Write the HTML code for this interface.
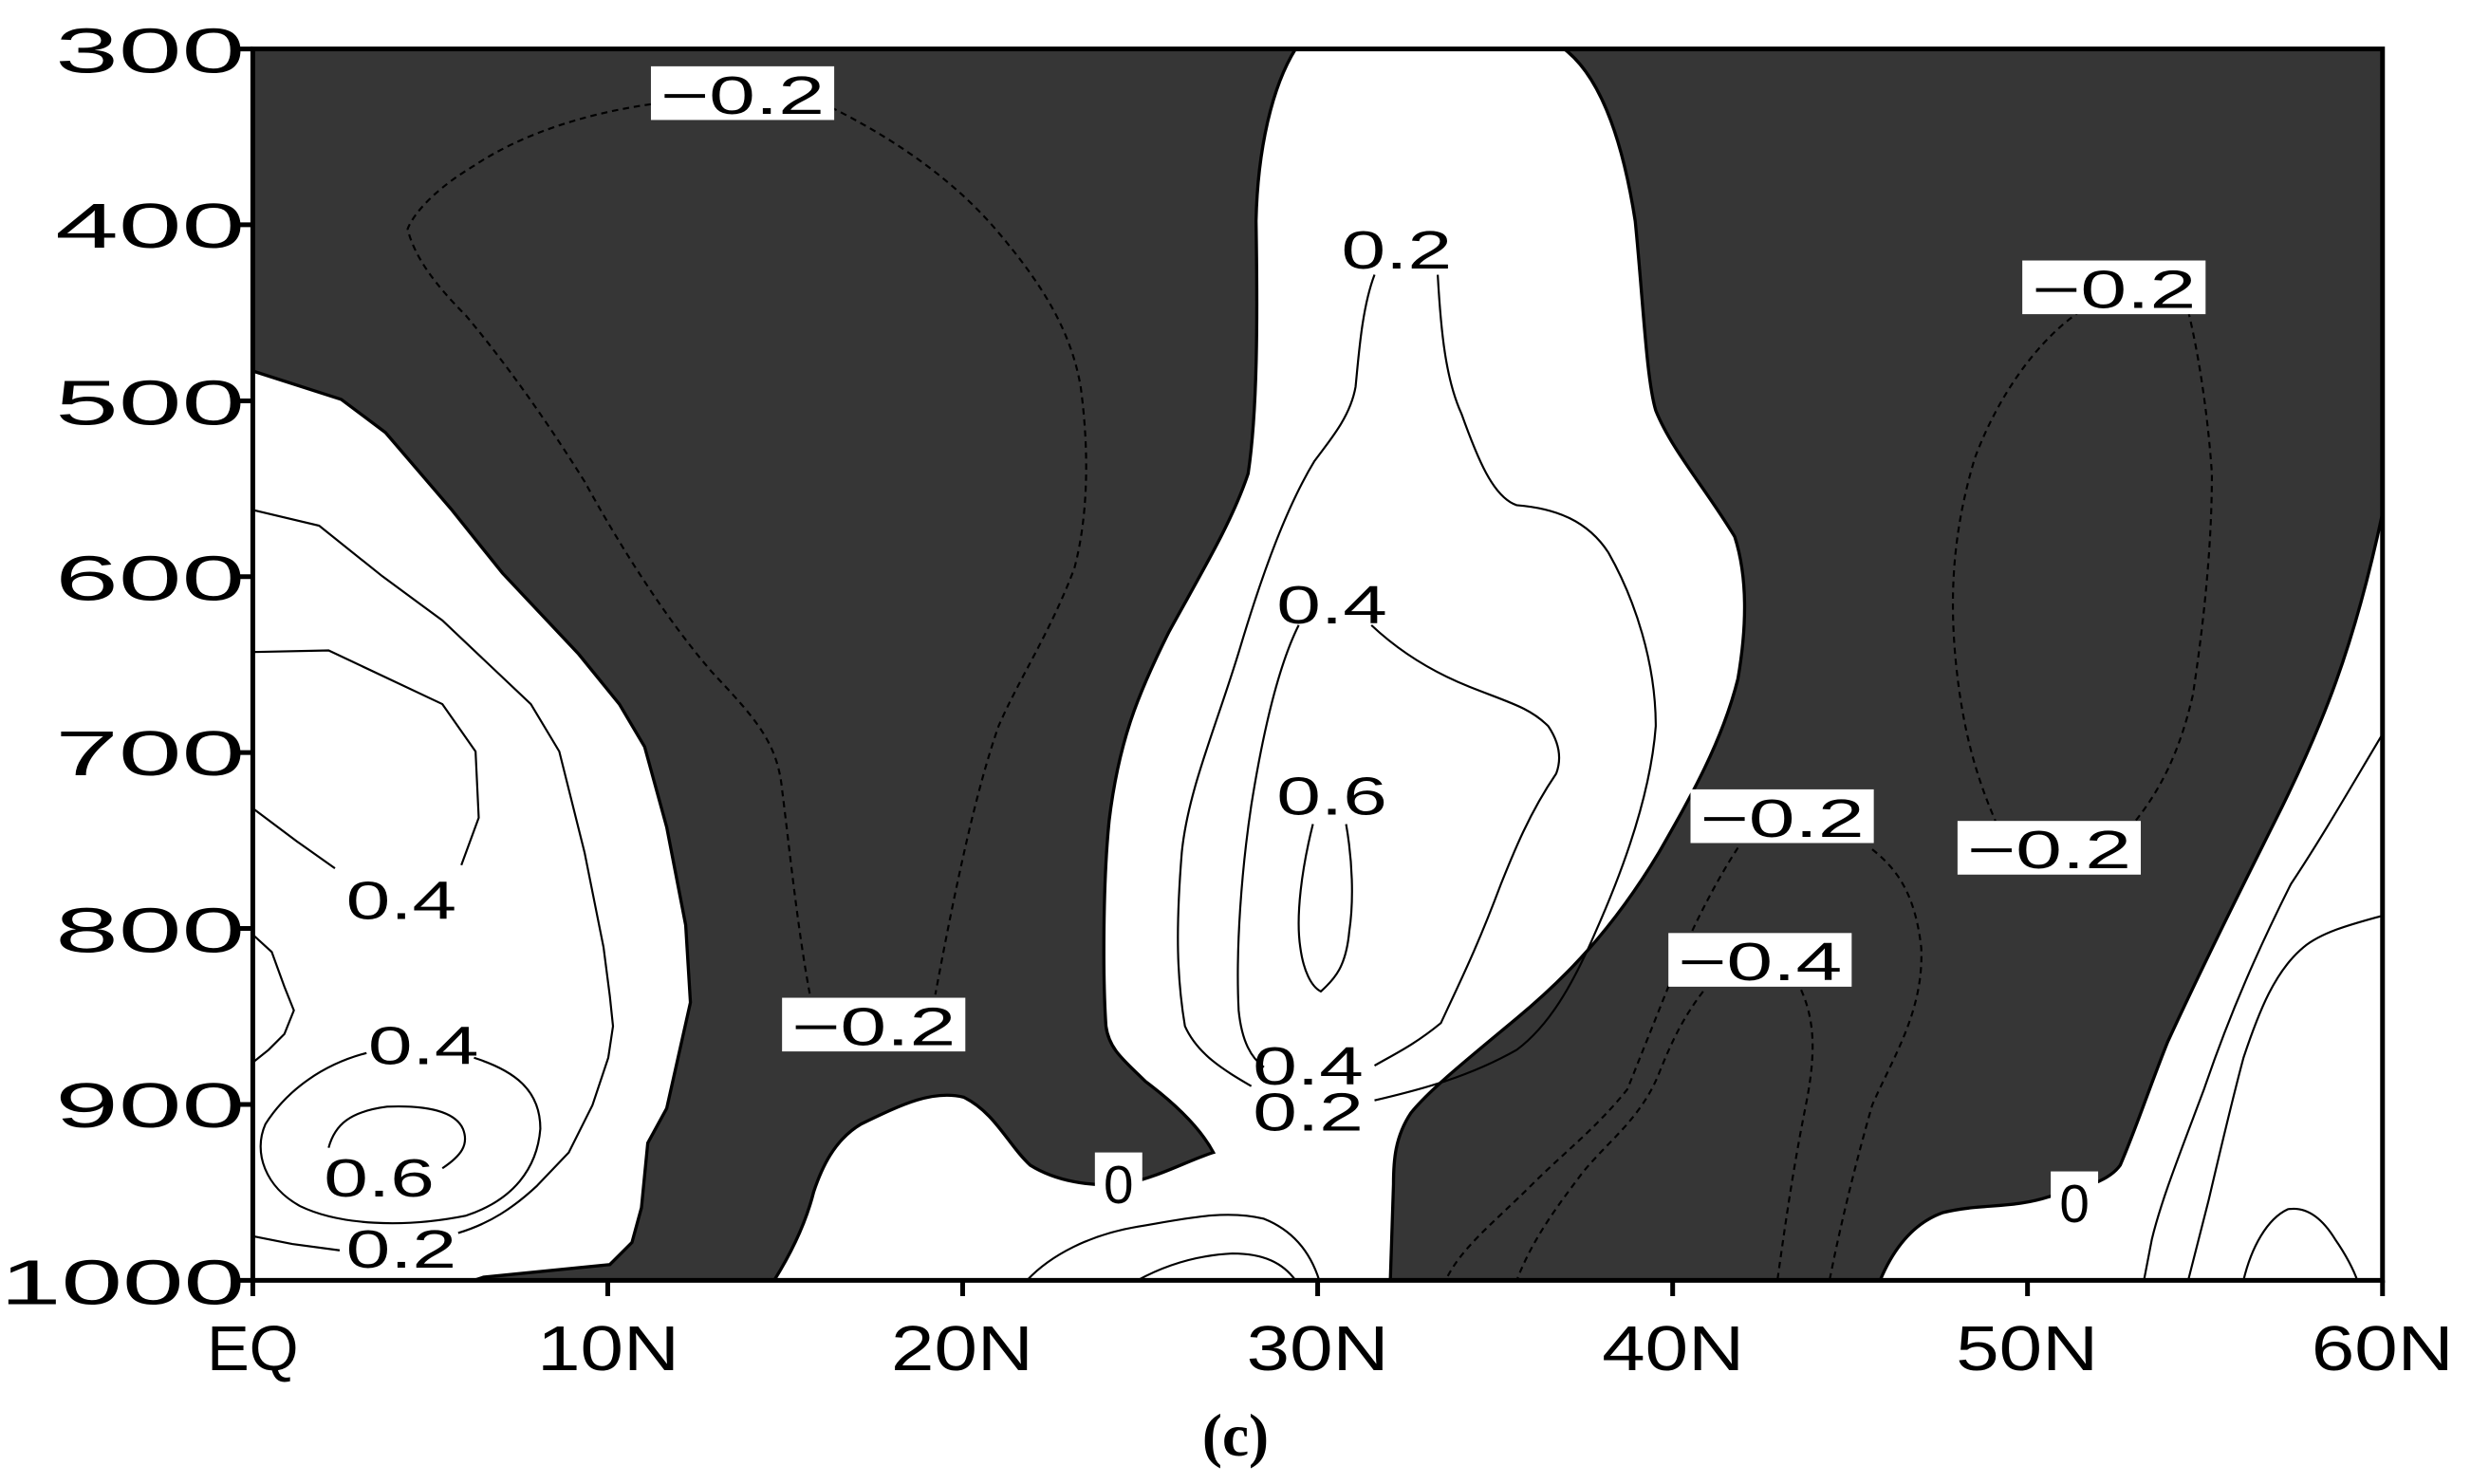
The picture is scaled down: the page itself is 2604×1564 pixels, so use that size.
<!DOCTYPE html>
<html><head><meta charset="utf-8"><style>
html,body{margin:0;padding:0;background:#fff;overflow:hidden;}
svg{display:block;}
text{font-family:"Liberation Sans",sans-serif;fill:#000;}
</style></head><body>
<svg width="2604" height="1564" viewBox="0 0 1564 940" preserveAspectRatio="none" xmlns="http://www.w3.org/2000/svg">
<rect x="0" y="0" width="1564" height="940" fill="#fff"/>
<rect x="160" y="31" width="1348" height="780" fill="#363636"/>
<g fill="#fff" stroke="#000" stroke-width="2">
<!-- left white -->
<path d="M160,235 L216,253 L244,274 L286,323 L318,363 L366,414 L392,446 L408,473 L422,524 L434,586 L437,635 L422,702 L410,724 L406,765 L400,787 L386,801 L306,809 L300,811 L160,811 Z"/>
<!-- middle white -->
<path d="M820,31 L990,31 C1015,50 1028,95 1035,140 C1040,190 1042,240 1048,260 C1058,285 1080,310 1098,340 C1106,365 1106,395 1100,430 C1090,470 1070,505 1050,540 C1020,590 990,620 960,645 C930,670 905,690 893,705 C883,720 882,735 882,750 L880,811 L490,811 C500,795 510,775 515,755 C520,740 528,722 545,712 C570,700 590,690 610,695 C630,705 638,725 652,738 C668,748 690,752 712,750 C735,745 752,735 768,730 C760,715 745,700 725,685 C712,672 702,665 700,650 C698,620 698,560 702,520 C708,470 720,440 740,400 C762,360 780,330 790,300 C796,260 796,200 795,140 C796,95 805,55 820,31 Z"/>
<!-- bottom right white -->
<path d="M1190,811 C1198,792 1210,775 1230,768 C1255,762 1275,766 1300,757 C1320,752 1335,748 1342,738 C1352,715 1360,690 1372,660 C1395,610 1420,560 1440,520 C1470,460 1490,410 1508,325 L1508,811 Z"/>
</g>
<g fill="none" stroke="#000" stroke-width="1.3">
<path d="M160,323 L202,333 L242,365 L280,393 L336,446 L354,476 L370,540 L382,600 L386,631 L388,650 L385,670 L375,700 L360,730 L340,751 C325,765 310,775 290,781"/>
<path d="M215,792 L185,788 L160,783"/>
<path d="M160,413 L208,412 L280,446 L301,476 L303,518 L292,548"/>
<path d="M160,512 L188,533 L212,550"/>
<path d="M160,592 L172,603 L180,625 L186,640 L180,655 L170,665 L160,673"/>
<path d="M232,667 C205,674 182,690 168,712 C160,730 168,752 190,764 C215,776 255,778 295,770 C325,760 340,740 342,715 C342,690 325,678 300,670"/>
<path d="M208,727 C212,712 222,704 245,701 C270,700 288,704 293,715 C297,725 292,732 280,740"/>
<path d="M870,174 C862,195 860,225 858,245 C855,262 845,275 832,292 C815,320 800,360 785,410 C770,460 752,500 748,540 C744,590 745,620 750,650 C758,668 775,678 792,688"/>
<path d="M910,174 C912,210 915,240 925,262 C935,290 945,315 960,320 C985,322 1005,330 1018,350 C1035,380 1048,420 1048,460 C1045,500 1030,545 1010,590 C995,625 980,650 960,665 C930,682 900,690 870,697"/>
<path d="M822,396 C810,420 800,460 792,510 C786,550 782,600 784,640 C786,660 792,670 800,676"/>
<path d="M868,396 C885,412 905,425 930,435 C955,445 968,448 980,460 C988,472 988,482 985,490 C968,515 958,540 950,560 C935,600 925,620 912,648 C895,662 882,668 870,675"/>
<path d="M831,522 C824,550 820,580 823,600 C825,615 830,625 836,628 C845,620 852,612 854,590 C857,570 856,545 852,522"/>
<path d="M650,811 C665,795 690,782 720,777 C750,772 775,766 800,772 C820,780 830,795 835,811"/>
<path d="M720,811 C740,800 760,795 780,794 C800,794 812,800 820,811"/>
<path d="M1508,465 C1490,495 1470,530 1450,560 C1430,600 1412,640 1395,690 C1380,730 1368,760 1362,785 L1357,811"/>
<path d="M1508,580 C1490,585 1470,590 1458,600 C1440,615 1430,640 1420,670 C1412,700 1405,730 1398,760 L1385,811"/>
<path d="M1420,811 C1425,790 1435,772 1448,766 C1460,764 1470,772 1478,785 C1485,795 1490,805 1492,811"/>
</g>
<g fill="none" stroke="#000" stroke-width="1.3" stroke-dasharray="4,3">
<path d="M412,66 C370,72 330,85 300,105 C275,120 262,135 258,145 C262,162 275,180 295,200 C320,230 345,265 370,305 C392,345 420,390 450,425 C478,455 492,470 495,500 C500,540 505,590 513,632"/>
<path d="M526,68 C560,85 600,110 630,145 C660,180 678,210 684,245 C690,290 688,330 680,360 C665,400 645,430 632,460 C618,500 605,560 592,630"/>
<path d="M1317,197 C1290,215 1265,250 1250,290 C1238,330 1233,370 1238,420 C1242,460 1250,490 1263,520"/>
<path d="M1385,197 C1393,230 1398,270 1400,300 C1400,350 1394,400 1388,440 C1380,475 1368,500 1350,522"/>
<path d="M1100,537 C1085,560 1070,590 1060,615 C1050,640 1040,665 1030,690 C1010,715 990,730 970,750 C945,775 925,790 915,811"/>
<path d="M1078,628 C1065,645 1058,660 1050,680 C1038,710 1015,725 1000,745 C985,765 970,785 960,811"/>
<path d="M1140,627 C1148,645 1150,665 1143,700 C1135,740 1130,775 1125,811"/>
<path d="M1185,538 C1200,550 1212,565 1216,600 C1218,640 1198,670 1185,700 C1175,735 1165,775 1158,811"/>
</g>
<rect x="160" y="31" width="1348" height="780" fill="none" stroke="#000" stroke-width="3"/>
<g stroke="#000" stroke-width="3">
<line x1="150" y1="31" x2="160" y2="31"/><line x1="150" y1="142.4" x2="160" y2="142.4"/>
<line x1="150" y1="253.9" x2="160" y2="253.9"/><line x1="150" y1="365.3" x2="160" y2="365.3"/>
<line x1="150" y1="476.7" x2="160" y2="476.7"/><line x1="150" y1="588.1" x2="160" y2="588.1"/>
<line x1="150" y1="699.6" x2="160" y2="699.6"/><line x1="150" y1="811" x2="160" y2="811"/>
<line x1="160" y1="811" x2="160" y2="821"/><line x1="384.7" y1="811" x2="384.7" y2="821"/>
<line x1="609.3" y1="811" x2="609.3" y2="821"/><line x1="834" y1="811" x2="834" y2="821"/>
<line x1="1058.7" y1="811" x2="1058.7" y2="821"/><line x1="1283.3" y1="811" x2="1283.3" y2="821"/>
<line x1="1508" y1="811" x2="1508" y2="821"/>
</g>
<g font-size="40" text-anchor="end">
<text x="155" y="46" textLength="120" lengthAdjust="spacingAndGlyphs">300</text>
<text x="155" y="157" textLength="120" lengthAdjust="spacingAndGlyphs">400</text>
<text x="155" y="269" textLength="120" lengthAdjust="spacingAndGlyphs">500</text>
<text x="155" y="380" textLength="120" lengthAdjust="spacingAndGlyphs">600</text>
<text x="155" y="491" textLength="120" lengthAdjust="spacingAndGlyphs">700</text>
<text x="155" y="603" textLength="120" lengthAdjust="spacingAndGlyphs">800</text>
<text x="155" y="714" textLength="120" lengthAdjust="spacingAndGlyphs">900</text>
<text x="155" y="826" textLength="155" lengthAdjust="spacingAndGlyphs">1000</text>
</g>
<g font-size="40" text-anchor="middle">
<text x="160" y="868" textLength="58" lengthAdjust="spacingAndGlyphs">EQ</text>
<text x="385" y="868" textLength="90" lengthAdjust="spacingAndGlyphs">10N</text>
<text x="609" y="868" textLength="90" lengthAdjust="spacingAndGlyphs">20N</text>
<text x="834" y="868" textLength="90" lengthAdjust="spacingAndGlyphs">30N</text>
<text x="1059" y="868" textLength="90" lengthAdjust="spacingAndGlyphs">40N</text>
<text x="1283" y="868" textLength="90" lengthAdjust="spacingAndGlyphs">50N</text>
<text x="1508" y="868" textLength="90" lengthAdjust="spacingAndGlyphs">60N</text>
</g>
<text x="782" y="922" font-size="38" font-weight="bold" text-anchor="middle" style="font-family:'Liberation Serif',serif">(c)</text>
<g fill="#fff">
<rect x="412" y="42" width="116" height="34"/>
<rect x="1280" y="165" width="116" height="34"/>
<rect x="1070" y="500" width="116" height="34"/>
<rect x="1239" y="520" width="116" height="34"/>
<rect x="1056" y="591" width="116" height="34"/>
<rect x="495" y="632" width="116" height="34"/>
<rect x="693" y="730" width="30" height="36"/>
<rect x="1298" y="742" width="30" height="36"/>
</g>
<g font-size="34" text-anchor="middle">
<text x="470" y="72" textLength="104" lengthAdjust="spacingAndGlyphs">−0.2</text>
<text x="1338" y="195" textLength="104" lengthAdjust="spacingAndGlyphs">−0.2</text>
<text x="1128" y="530" textLength="104" lengthAdjust="spacingAndGlyphs">−0.2</text>
<text x="1297" y="550" textLength="104" lengthAdjust="spacingAndGlyphs">−0.2</text>
<text x="1114" y="621" textLength="104" lengthAdjust="spacingAndGlyphs">−0.4</text>
<text x="553" y="662" textLength="104" lengthAdjust="spacingAndGlyphs">−0.2</text>
<text x="708" y="762">0</text>
<text x="1313" y="774">0</text>
<text x="884" y="170" textLength="70" lengthAdjust="spacingAndGlyphs">0.2</text>
<text x="843" y="395" textLength="70" lengthAdjust="spacingAndGlyphs">0.4</text>
<text x="843" y="516" textLength="70" lengthAdjust="spacingAndGlyphs">0.6</text>
<text x="828" y="687" textLength="70" lengthAdjust="spacingAndGlyphs">0.4</text>
<text x="828" y="716" textLength="70" lengthAdjust="spacingAndGlyphs">0.2</text>
<text x="254" y="582" textLength="70" lengthAdjust="spacingAndGlyphs">0.4</text>
<text x="268" y="674" textLength="70" lengthAdjust="spacingAndGlyphs">0.4</text>
<text x="240" y="758" textLength="70" lengthAdjust="spacingAndGlyphs">0.6</text>
<text x="254" y="803" textLength="70" lengthAdjust="spacingAndGlyphs">0.2</text>
</g>
</svg>
</body></html>
